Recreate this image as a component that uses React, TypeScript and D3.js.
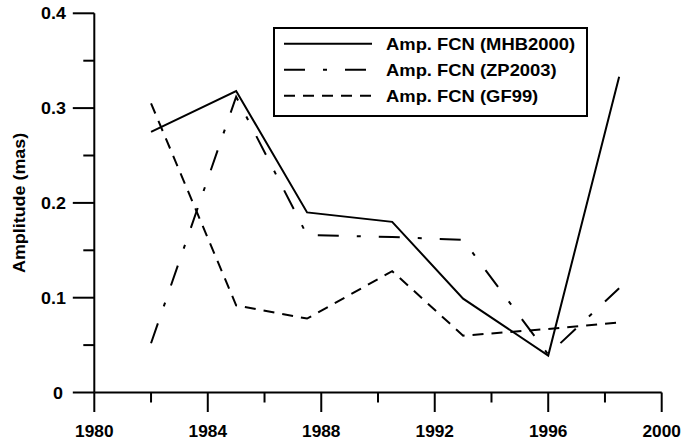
import React from "react";
import * as d3 from "d3";

const years = [1982, 1985, 1987.5, 1990.5, 1993, 1996, 1998.5];
const mhb2000 = [0.275, 0.318, 0.19, 0.18, 0.099, 0.039, 0.333];
const zp2003 = [0.052, 0.312, 0.166, 0.164, 0.161, 0.04, 0.11];
const gf99 = [0.305, 0.092, 0.078, 0.128, 0.06, 0.067, 0.074];

const seriesNames = ["Amp. FCN (MHB2000)", "Amp. FCN (ZP2003)", "Amp. FCN (GF99)"];
const xTicks = [1980, 1984, 1988, 1992, 1996, 2000];
const xMinor = [1982, 1986, 1990, 1994, 1998];
const yTicks = [0, 0.1, 0.2, 0.3, 0.4];
const yMinor = [0.05, 0.15, 0.25, 0.35];
const yTitle = "Amplitude (mas)";

const W = 683;
const H = 443;
const FONT = "'Liberation Sans', Arial, Helvetica, sans-serif";

export default function App() {
  const x = d3.scaleLinear().domain([1980, 2000]).range([94.3, 661.7]);
  const y = d3.scaleLinear().domain([0, 0.4]).range([392.5, 13.3]);
  const line = d3
    .line<[number, number]>()
    .x((d) => x(d[0]))
    .y((d) => y(d[1]));

  const series = [
    { name: seriesNames[0], values: mhb2000, dash: undefined as string | undefined },
    { name: seriesNames[1], values: zp2003, dash: "21,18,4,18" },
    { name: seriesNames[2], values: gf99, dash: "11,8" },
  ];

  const x0 = x(1980);
  const y0 = y(0);
  const sw = 2;

  const tickText = (
    key: string,
    tx: number,
    ty: number,
    anchor: "start" | "middle" | "end",
    text: string,
    sx: number,
    fs: number = 16
  ) => (
    <g key={key} transform={`translate(${tx},${ty}) scale(${sx},1)`}>
      <text
        x={0}
        y={0}
        textAnchor={anchor}
        fontFamily={FONT}
        fontWeight="bold"
        fontSize={fs}
        fill="#000"
      >
        {text}
      </text>
    </g>
  );

  const legX = 274;
  const legY = 28;
  const legW = 313;
  const legH = 88;
  const rowYs = [43.7, 69.7, 95.7];

  return (
    <svg
      width={W}
      height={H}
      style={{ position: "fixed", left: 0, top: 0, background: "#fff" }}
    >
      <rect x={0} y={0} width={W} height={H} fill="#fff" />
      {/* axes */}
      <line x1={x0} x2={x(2000)} y1={y0} y2={y0} stroke="#000" strokeWidth={sw} />
      <line x1={x0} x2={x0} y1={y0} y2={y(0.4)} stroke="#000" strokeWidth={sw} />
      {/* x ticks */}
      {xTicks.map((t) => (
        <line key={"xt" + t} x1={x(t)} x2={x(t)} y1={y0} y2={y0 + 19.5} stroke="#000" strokeWidth={sw} />
      ))}
      {xMinor.map((t) => (
        <line key={"xm" + t} x1={x(t)} x2={x(t)} y1={y0} y2={y0 + 10} stroke="#000" strokeWidth={sw} />
      ))}
      {xTicks.map((t) => tickText("xl" + t, x(t), 437, "middle", String(t), 1.08))}
      {/* y ticks */}
      {yTicks.map((t) => (
        <line key={"yt" + t} x1={x0 - 21.5} x2={x0} y1={y(t)} y2={y(t)} stroke="#000" strokeWidth={sw} />
      ))}
      {yMinor.map((t) => (
        <line key={"ym" + t} x1={x0 - 11} x2={x0} y1={y(t)} y2={y(t)} stroke="#000" strokeWidth={sw} />
      ))}
      {yTicks.map((t) =>
        tickText("yl" + t, t === 0 ? 63 : 66, y(t) + 6, "end", t === 0 ? "0" : d3.format(".1f")(t), 1.12)
      )}
      {/* y title */}
      <g transform={`translate(25,${y(0.2)}) rotate(-90) scale(1.12,1)`}>
        <text x={0} y={0} textAnchor="middle" fontFamily={FONT} fontWeight="bold" fontSize={16} fill="#000">
          {yTitle}
        </text>
      </g>
      {/* data */}
      {series.map((s) => (
        <path
          key={s.name}
          d={line(years.map((yr, i) => [yr, s.values[i]] as [number, number])) || ""}
          fill="none"
          stroke="#000"
          strokeWidth={2}
          strokeDasharray={s.dash}
          strokeLinejoin="miter"
        />
      ))}
      {/* legend */}
      <rect x={legX} y={legY} width={legW} height={legH} fill="#fff" stroke="#000" strokeWidth={2} />
      {series.map((s, i) => (
        <g key={"lg" + i}>
          <line
            x1={284}
            x2={372}
            y1={rowYs[i]}
            y2={rowYs[i]}
            stroke="#000"
            strokeWidth={2}
            strokeDasharray={s.dash}
          />
          {tickText("lt" + i, 386, rowYs[i] + 6, "start", s.name, 1.15)}
        </g>
      ))}
    </svg>
  );
}
